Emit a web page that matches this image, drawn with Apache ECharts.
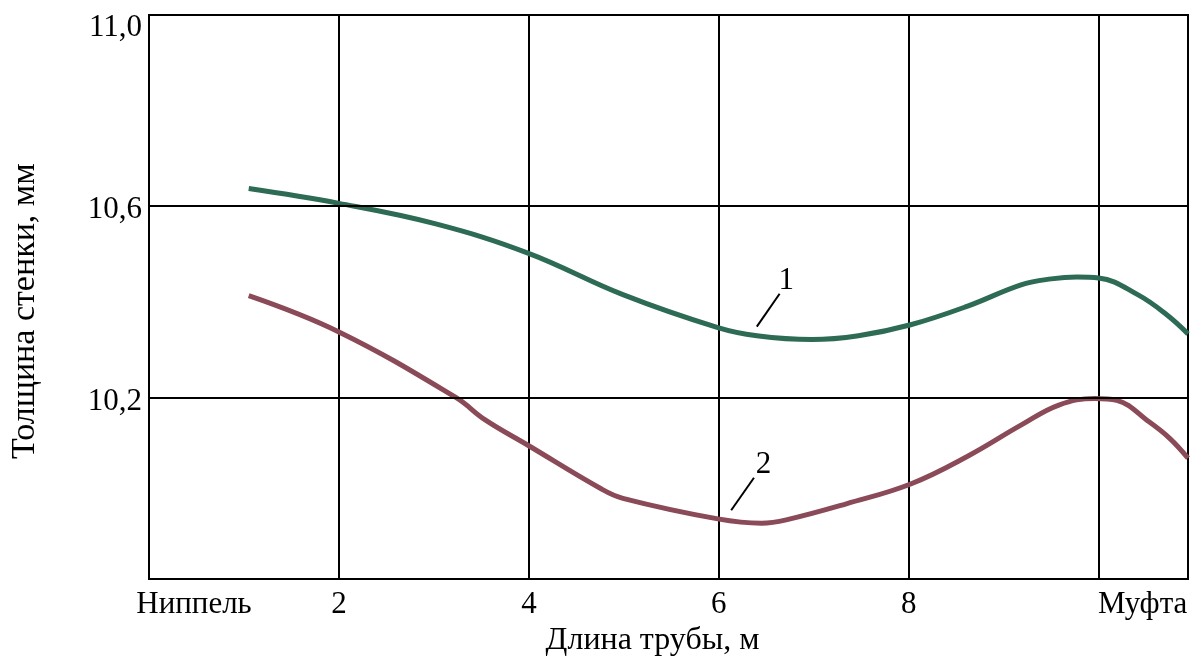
<!DOCTYPE html>
<html>
<head>
<meta charset="utf-8">
<script src="https://cdn.jsdelivr.net/npm/echarts@6/dist/echarts.min.js"></script>
<style>
    html, body { margin: 0; padding: 0; background: #fff; }
    #myChart { width: 1191px; height: 662px; }
</style>
</head>
<body>
<div id="myChart"></div>
<script>
//длина трубы, м (кривая 1)
var curve1X = [1.05, 2.0, 3.02, 3.99, 4.99, 5.99, 6.40, 6.98, 7.47, 8.02, 8.62, 9.19, 9.50, 9.77, 10.0, 10.41, 10.71, 10.94];
var curve1Y = [10.637, 10.606, 10.563, 10.502, 10.415, 10.346, 10.329, 10.321, 10.329, 10.352, 10.391, 10.436, 10.448, 10.452, 10.450, 10.415, 10.374, 10.333];
//кривая 2
var curve2X = [1.05, 2.0, 3.23, 3.54, 3.99, 4.76, 4.99, 5.99, 6.45, 6.71, 7.35, 8.02, 8.62, 9.19, 9.58, 9.96, 10.19, 10.53, 10.75, 10.94];
var curve2Y = [10.413, 10.337, 10.2, 10.153, 10.1, 10.009, 9.989, 9.946, 9.937, 9.944, 9.978, 10.019, 10.077, 10.143, 10.184, 10.198, 10.194, 10.149, 10.114, 10.073];
//выноски и номера кривых
var leader1 = [[6.64, 10.417], [6.40, 10.348]];
var leader2 = [[6.37, 10.032], [6.13, 9.964]];
var curveLabels = [
    {name: '1', value: [6.71, 10.444]},
    {name: '2', value: [6.47, 10.058]}
];
var yTicks = [10.2, 10.6, 11.0];
var xTicks = [0, 2, 4, 6, 8, 10];

var FONT = '"Liberation Serif", "Times New Roman", serif';

function zip(xs, ys) {
    var out = [];
    for (var i = 0; i < xs.length; i++) {
        out.push([xs[i], ys[i]]);
    }
    return out;
}

function leaderSeries(data) {
    return {
        type: 'line',
        data: data,
        symbol: 'none',
        silent: true,
        lineStyle: {color: '#000', width: 2},
        z: 3
    };
}

var myChart = echarts.init(document.getElementById('myChart'));
var option = {
    animation: false,
    backgroundColor: '#fff',
    textStyle: {fontFamily: FONT},
    grid: {
        left: 142,
        top: 15,
        width: 1046,
        height: 575,
        show: true,
        borderColor: '#000',
        borderWidth: 2,
        containLabel: false
    },
    xAxis: {
        type: 'value',
        min: 0,
        max: 10.94,
        interval: 2,
        name: 'Длина трубы, м',
        nameLocation: 'middle',
        nameGap: 37,
        nameTextStyle: {
            color: '#000',
            fontSize: 32,
            fontFamily: FONT,
            padding: [0, 32, 0, 0]
        },
        axisLine: {show: true, lineStyle: {color: '#000', width: 2}},
        axisTick: {show: false},
        splitLine: {show: true, lineStyle: {color: '#000', width: 2}},
        axisLabel: {
            color: '#000',
            fontSize: 31,
            fontFamily: FONT,
            margin: 10,
            showMaxLabel: false,
            formatter: function (value) {
                if (xTicks.indexOf(value) < 0) {
                    return '';
                }
                if (value === 0) {
                    return '{a|Ниппель}';
                }
                if (value === 10) {
                    return '{b|Муфта}';
                }
                return String(value);
            },
            rich: {
                a: {fontSize: 31, fontFamily: FONT, color: '#000', padding: [0, 0, 0, 90]},
                b: {fontSize: 31, fontFamily: FONT, color: '#000', padding: [0, 0, 0, 88]}
            }
        }
    },
    yAxis: {
        type: 'value',
        min: 9.82,
        max: 11,
        name: 'Толщина стенки, мм',
        nameLocation: 'middle',
        nameGap: 107,
        nameRotate: 90,
        nameTextStyle: {
            color: '#000',
            fontSize: 34,
            fontFamily: FONT,
            padding: [0, 28, 0, 0]
        },
        axisLine: {show: true, lineStyle: {color: '#000', width: 2}},
        axisTick: {show: false},
        splitLine: {show: false},
        axisLabel: {
            color: '#000',
            fontSize: 31,
            fontFamily: FONT,
            margin: 7,
            customValues: yTicks,
            formatter: function (value) {
                var s = value.toFixed(1).replace('.', ',');
                if (value === 11) {
                    return '{t|' + s + '}';
                }
                return '{n|' + s + '}';
            },
            rich: {
                t: {fontSize: 31, fontFamily: FONT, color: '#000', padding: [26, 0, 0, 0]},
                n: {fontSize: 31, fontFamily: FONT, color: '#000', padding: [8, 0, 0, 0]}
            }
        }
    },
    series: [
        {
            type: 'line',
            data: zip(curve1X, curve1Y),
            smooth: 0.4,
            symbol: 'none',
            lineStyle: {color: '#2e6b55', width: 5},
            z: 4,
            //горизонтальные линии сетки
            markLine: {
                silent: true,
                symbol: 'none',
                label: {show: false},
                lineStyle: {color: '#000', width: 2, type: 'solid'},
                data: [{yAxis: yTicks[0]}, {yAxis: yTicks[1]}]
            }
        },
        {
            type: 'line',
            data: zip(curve2X, curve2Y),
            smooth: 0.4,
            symbol: 'none',
            lineStyle: {color: '#8a4a58', width: 5},
            z: 4
        },
        leaderSeries(leader1),
        leaderSeries(leader2),
        {
            type: 'scatter',
            data: curveLabels,
            symbolSize: 1,
            itemStyle: {color: '#fff', opacity: 0},
            silent: true,
            label: {
                show: true,
                position: 'inside',
                formatter: '{b}',
                color: '#000',
                opacity: 1,
                textBorderWidth: 0,
                fontSize: 31,
                fontFamily: FONT
            },
            z: 5
        }
    ]
};
myChart.setOption(option);
</script>
</body>
</html>
